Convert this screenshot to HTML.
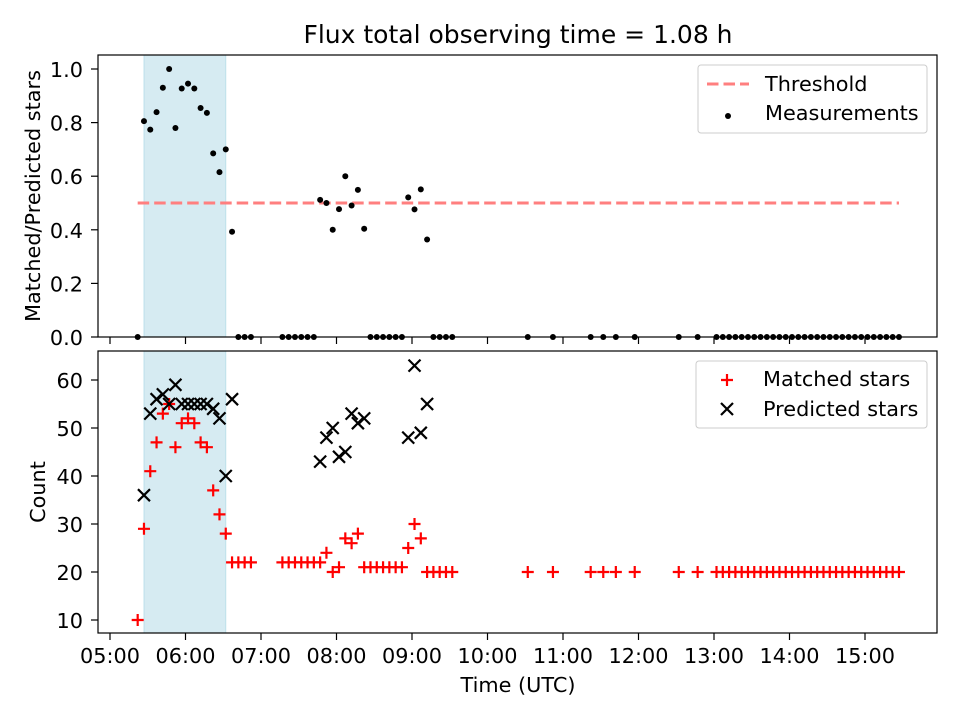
<!DOCTYPE html>
<html><head><meta charset="utf-8"><style>
html,body{margin:0;padding:0;background:#fff}
svg{display:block;font-family:"DejaVu Sans","Liberation Sans",sans-serif}
</style></head><body>
<svg id="chart" width="960" height="720" viewBox="0 0 960 720">
<text x="518" y="43" font-size="25" text-anchor="middle">Flux total observing time = 1.08 h</text>
<g id="top"></g>
<g id="bot"></g>
</svg>
<script>
// minutes after 05:00 for each observation
const times = [22,27,32,37,42,47,52,57,62,67,72,77,82,87,92,97,102,107,112,
137,142,147,152,157,162,167,172,177,182,187,192,197,202,207,212,217,222,227,232,237,242,247,252,257,262,267,272,
332,352,382,392,402,417,452,467,
482,487,492,497,502,507,512,517,522,527,532,537,542,547,552,557,562,567,572,577,582,587,592,597,602,607,612,617,622,627];
const matched = [10,29,41,47,53,55,46,51,52,51,47,46,37,32,28,22,22,22,22,
22,22,22,22,22,22,22,24,20,21,27,26,28,21,21,21,21,21,21,21,25,30,27,20,20,20,20,20,
20,20,20,20,20,20,20,20,
20,20,20,20,20,20,20,20,20,20,20,20,20,20,20,20,20,20,20,20,20,20,20,20,20,20,20,20,20,20];
const predicted = [null,36,53,56,57,55,59,55,55,55,55,55,54,52,40,56,null,null,null,
null,null,null,null,null,null,43,48,50,44,45,53,51,52,null,null,null,null,null,null,48,63,49,55,null,null,null,null,
null,null,null,null,null,null,null,null];
const ratio = matched.map((m,i)=>predicted[i]?m/predicted[i]:0);
const xTickLabels = ["05:00","06:00","07:00","08:00","09:00","10:00","11:00","12:00","13:00","14:00","15:00"];
const topTicks = [0,0.2,0.4,0.6,0.8,1.0];
const botTicks = [10,20,30,40,50,60];
const threshold = 0.5;
const shadeRange = [27,92];

const NS="http://www.w3.org/2000/svg";
const L=98,R=937,FS=20.8;
const xs=m=>110+m/60*75.5;
const yTop=v=>337-v*268;
const yBot=v=>620-(v-10)*4.8;
function mk(p,tag,a){const e=document.createElementNS(NS,tag);for(const k in a)e.setAttribute(k,a[k]);p.appendChild(e);return e;}
const gTop=document.getElementById('top'), gBot=document.getElementById('bot');

function frame(g,y0,y1,labels){
  let f=mk(g,'rect',{x:L,y:y0,width:R-L,height:y1-y0,fill:'none',stroke:'#000','stroke-width':1.2});
  
  
  xTickLabels.forEach((t,i)=>{
    const x=xs(i*60);
    const tk=mk(g,'line',{x1:x,x2:x,y1:y1,y2:y1+7,stroke:'#000','stroke-width':1.2});
    
    
    if(labels){
      const tx=mk(g,'text',{x:x,y:y1+30,'font-size':FS,'text-anchor':'middle'});
      tx.textContent=t;
      
      
    }
  });
}
function yticks(g,ticks,fy,fmt){
  ticks.forEach(v=>{
    const y=fy(v);
    const tk=mk(g,'line',{x1:L-7,x2:L,y1:y,y2:y,stroke:'#000','stroke-width':1.2});
    
    
    const tx=mk(g,'text',{x:L-15,y:y+8,'font-size':FS,'text-anchor':'end'});
    tx.textContent=fmt(v);
    
    
  });
}
[[gTop,55,337],[gBot,351,633]].forEach(([g,a,b])=>{
  const s=mk(g,'rect',{x:xs(shadeRange[0]),y:a,width:xs(shadeRange[1])-xs(shadeRange[0]),height:b-a,fill:'#add8e6','fill-opacity':0.5,stroke:'#add8e6','stroke-opacity':0.7});
  
  
});
const th=mk(gTop,'line',{x1:xs(times[0]),x2:xs(times[times.length-1]),y1:yTop(threshold),y2:yTop(threshold),stroke:'#ff7f7f','stroke-width':3,'stroke-dasharray':'11.5,5'});


times.forEach((t,i)=>{
  if(ratio[i]==null||isNaN(ratio[i]))return;
  const c=mk(gTop,'circle',{cx:xs(t),cy:yTop(ratio[i]),r:3,fill:'#000'});
  
  
});
times.forEach((t,i)=>{
  if(matched[i]==null)return;
  const x=xs(t),y=yBot(matched[i]);
  const p=mk(gBot,'path',{d:`M${x-6},${y}H${x+6}M${x},${y-6}V${y+6}`,stroke:'#f00','stroke-width':2.2,fill:'none'});
  
  
});
times.forEach((t,i)=>{
  if(predicted[i]==null)return;
  const x=xs(t),y=yBot(predicted[i]),d=6;
  const p=mk(gBot,'path',{d:`M${x-d},${y-d}L${x+d},${y+d}M${x-d},${y+d}L${x+d},${y-d}`,stroke:'#000','stroke-width':2.2,fill:'none'});
  
  
});
frame(gTop,55,337,false);
frame(gBot,351,633,true);
yticks(gTop,topTicks,yTop,v=>v.toFixed(1));
yticks(gBot,botTicks,yBot,v=>String(v));
function txt(g,x,y,s,name,rot){
  const e=mk(g,'text',{x:x,y:y,'font-size':FS,'text-anchor':'middle'});
  if(rot)e.setAttribute('transform',`rotate(-90 ${x} ${y})`);
  e.textContent=s;
  
  
  return e;
}
txt(gTop,40,196,'Matched/Predicted stars','y-axis-title-ratio',true);
txt(gBot,45,492,'Count','y-axis-title-count',true);
txt(gBot,518,692,'Time (UTC)','x-axis-title',false);
function legend(g,x,y,w,h,name){
  const r=mk(g,'rect',{x:x,y:y,width:w,height:h,rx:3,fill:'#fff','fill-opacity':0.8,stroke:'#ccc','stroke-width':1});
  
  
}
legend(gTop,698,65,229,68,'legend-top');
const ll=mk(gTop,'line',{x1:707,x2:749,y1:84,y2:84,stroke:'#ff7f7f','stroke-width':3,'stroke-dasharray':'11.5,5'});


let e=mk(gTop,'text',{x:765,y:91,'font-size':FS});e.textContent='Threshold';


const lc=mk(gTop,'circle',{cx:728,cy:116,r:3,fill:'#000'});


e=mk(gTop,'text',{x:765,y:120,'font-size':FS});e.textContent='Measurements';



legend(gBot,696,361,231,67,'legend-bottom');
let lp=mk(gBot,'path',{d:'M721,380H733M727,374V386',stroke:'#f00','stroke-width':2.2});


e=mk(gBot,'text',{x:763,y:386,'font-size':FS});e.textContent='Matched stars';


lp=mk(gBot,'path',{d:'M721,403L733,415M721,415L733,403',stroke:'#000','stroke-width':2.2});


e=mk(gBot,'text',{x:763,y:416,'font-size':FS});e.textContent='Predicted stars';


</script>
</body></html>
